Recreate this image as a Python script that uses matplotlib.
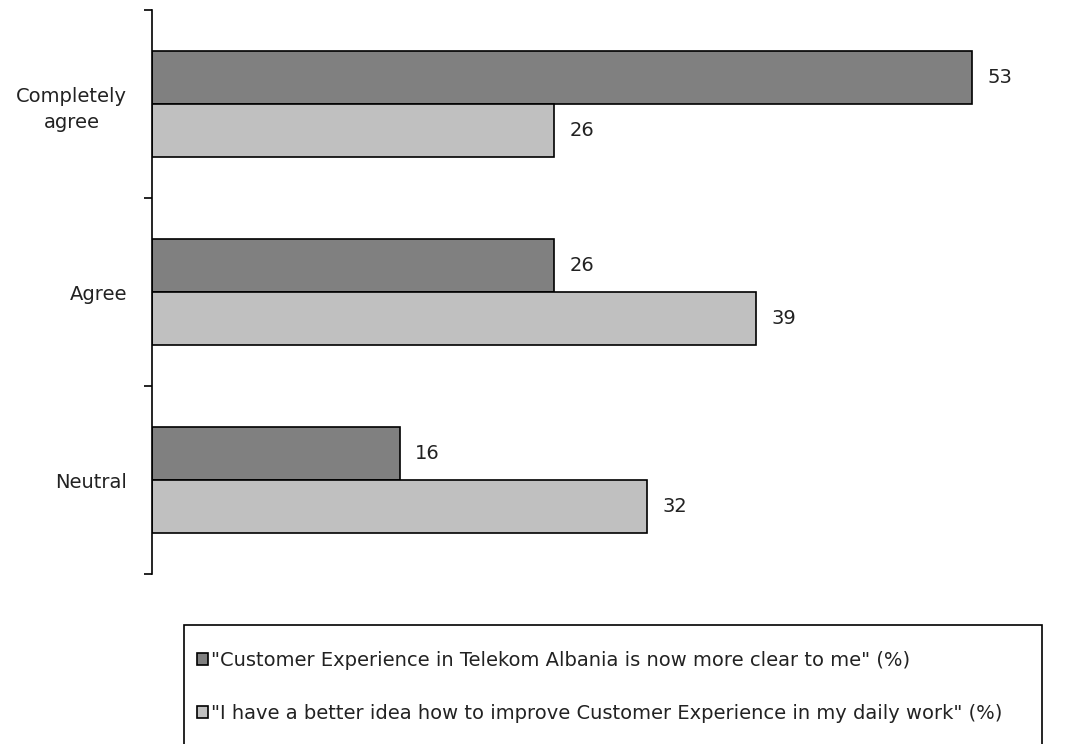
import numpy as np
import matplotlib.pyplot as plt
from matplotlib.patches import Rectangle

plt.rcParams['font.family'] = ['DejaVu Sans']

categories = ["Completely\nagree", "Agree", "Neutral"]
clear_to_me = [53, 26, 16]
better_idea = [26, 39, 32]
labels = ['"Customer Experience in Telekom Albania is now more clear to me" (%)',
          '"I have a better idea how to improve Customer Experience in my daily work" (%)']

W, H = 1073, 744
fig = plt.figure(figsize=(W / 100, H / 100), dpi=100)
ax = fig.add_axes([152 / W, 1 - 574 / H, 1 - 152 / W, 564 / H])

y = np.arange(len(categories))
h = 0.28
b1 = ax.barh(y - h / 2, clear_to_me, height=h, color="#808080", edgecolor="black", linewidth=1.2, label=labels[0])
b2 = ax.barh(y + h / 2, better_idea, height=h, color="#c0c0c0", edgecolor="black", linewidth=1.2, label=labels[1])

for bars, vals in ((b1, clear_to_me), (b2, better_idea)):
    for rect, v in zip(bars, vals):
        ax.text(rect.get_width() + 1.0, rect.get_y() + rect.get_height() / 2, str(v),
                va="center", ha="left", fontsize=14, color="#222222")

ax.set_xlim(0, 59.5)
ax.set_ylim(len(categories) - 0.5, -0.5)
ax.set_xticks([])
ax.set_yticks(y)
ax.set_yticklabels(categories, fontsize=14, multialignment="center", color="#222222",
                   linespacing=1.5)
ax.set_yticks(np.arange(len(categories) + 1) - 0.5, minor=True)
ax.tick_params(axis="y", which="major", length=0, pad=18)
ax.tick_params(axis="y", which="minor", length=6, width=1.2, direction="out")
for s in ("top", "right", "bottom"):
    ax.spines[s].set_visible(False)
ax.spines["left"].set_linewidth(1.2)

# legend box
fig.patches.append(Rectangle((184 / W, 1 - 748 / H), (1042 - 184) / W, (748 - 625) / H,
                             transform=fig.transFigure, fill=False, edgecolor="black", linewidth=1.2))
fig.legend(loc="upper left", bbox_to_anchor=(197 / W, 1 - 651 / H),
           frameon=False, fontsize=14, handlelength=0.55, handleheight=0.55,
           handletextpad=0.15, labelspacing=1.75, borderpad=0, borderaxespad=0,
           labelcolor="#222222")

fig.savefig("out.png", dpi=100)
